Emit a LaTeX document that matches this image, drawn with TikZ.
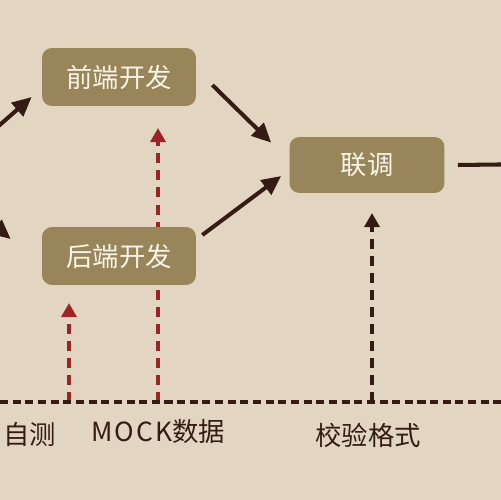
\documentclass[tikz,border=0pt]{standalone}
\usepackage{fontspec}
\setmainfont{Noto Sans CJK SC}
\usetikzlibrary{positioning}
\usetikzlibrary{calc}
\usetikzlibrary{arrows.meta}
\definecolor{paper}{RGB}{226,214,195}
\definecolor{olive}{RGB}{152,133,90}
\definecolor{cream}{RGB}{250,244,230}
\definecolor{ink}{RGB}{52,28,20}
\definecolor{rust}{RGB}{158,36,36}
\tikzstyle{task} = [rectangle, rounded corners=0.2cm, fill=olive, text=cream, minimum height=1.16cm, minimum width=3.08cm, font=\fontsize{15}{18}\selectfont]
\tikzstyle{flow} = [-{Triangle[length=11pt,width=10pt]}, line width=2.3pt, draw=ink]
\tikzstyle{hint} = [-{Triangle[length=8pt,width=8.5pt]}, line width=2pt, dash pattern=on 5.7pt off 4pt]
\tikzstyle{timeline} = [line width=2.3pt, draw=ink, dash pattern=on 4.6pt off 2.6pt]
\tikzstyle{tag} = [text=ink, font=\fontsize{15}{18}\selectfont]

\begin{document}
\begin{tikzpicture}[x=0.02cm,y=-0.02cm]
    \fill [paper] (0,0) rectangle (501,500);
    \useasboundingbox (0,0) rectangle (501,500);
    \clip (0,0) rectangle (501,500);

    \coordinate (src1) at (-30,151);
    \coordinate (src2) at (-30,205);
    \coordinate (out) at (540,164);
    \coordinate (left) at (0,402);
    \coordinate (right) at (501,402);
    \coordinate (self) at (69,402);
    \coordinate (mock) at (158,402);
    \coordinate (check) at (372,402);

    % dashed hints first, the boxes cover them
    \draw [hint, rust] (self) -- ++(0,-99);
    \draw [hint, rust] (mock) -- ++(0,-274);
    \draw [hint, ink] (check) -- ++(0,-189);
    \draw [timeline] (left) -- (right);

    \node [task] (front) at (119,77) {前端开发};
    \node [task] (back) at (119,256) {后端开发};
    \node [task, minimum width=3.1cm, minimum height=1.12cm] (joint) at (367,165) {联调};

    \draw [flow] (src1) -- ($(front.west)+(-10,20)$);
    \draw [flow] (src2) -- ($(back.west)+(-31,-17)$);
    \draw [flow] ($(front.east)+(16,8)$) -- ($(joint.north west)+(-18,6)$);
    \draw [flow] ($(back.east)+(6,-21)$) -- ($(joint.west)+(-8,11)$);
    \draw [flow] ($(joint.east)+(13,0)$) -- (out);

    \node [tag] (selftest) at (30,434) {自测};
    \node [tag] (mockdata) at (158,432) {{\addfontfeature{LetterSpace=8}MOCK}数据};
    \node [tag] (format) at (368,435) {校验格式};
\end{tikzpicture}
\end{document}
